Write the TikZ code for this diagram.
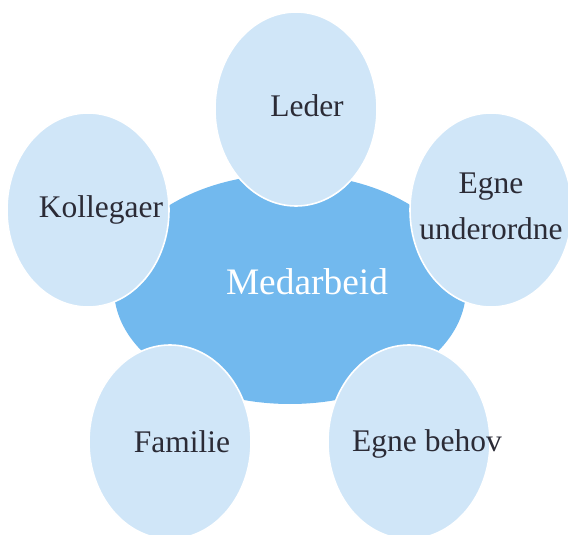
\documentclass[tikz,border=0pt]{standalone}
\usepackage{fontspec}
\setmainfont{Liberation Serif}
\usetikzlibrary{shapes.geometric}
\definecolor{midblue}{HTML}{72B9EE}
\definecolor{paleblue}{HTML}{D0E6F8}
\definecolor{inkgray}{HTML}{2B2B36}
\begin{document}
\begin{tikzpicture}[x=0.5pt,y=-0.5pt,
  core/.style={ellipse,fill=midblue,minimum width=176pt,minimum height=115pt,inner sep=0pt},
  bubble/.style={ellipse,fill=paleblue,draw=white,line width=0.8pt,minimum width=81pt,minimum height=97pt,inner sep=0pt},
  word/.style={font=\fontsize{15.75}{23}\selectfont,text=inkgray,align=center}]
\useasboundingbox (0,0) rectangle (568,535);
\node[core,label={[font=\fontsize{18.7}{22}\selectfont,text=white,xshift=8.5pt,yshift=3.5pt]center:Medarbeid}] (med) at (290,289) {};
\node[bubble,label={[word,xshift=5.5pt,yshift=1.5pt]center:Leder}] (leder) at (296,109) {};
\node[bubble,label={[word,xshift=6.5pt]center:Kollegaer}] (koll) at (88,210) {};
\node[bubble,label={[word,yshift=2pt]center:Egne\\underordne}] (under) at (491,210) {};
\node[bubble,label={[word,xshift=6pt]center:Familie}] (fam) at (170,442) {};
\node[bubble,label={[word,xshift=9pt,yshift=-1pt]center:Egne behov}] (behov) at (409,442) {};
\end{tikzpicture}
\end{document}
